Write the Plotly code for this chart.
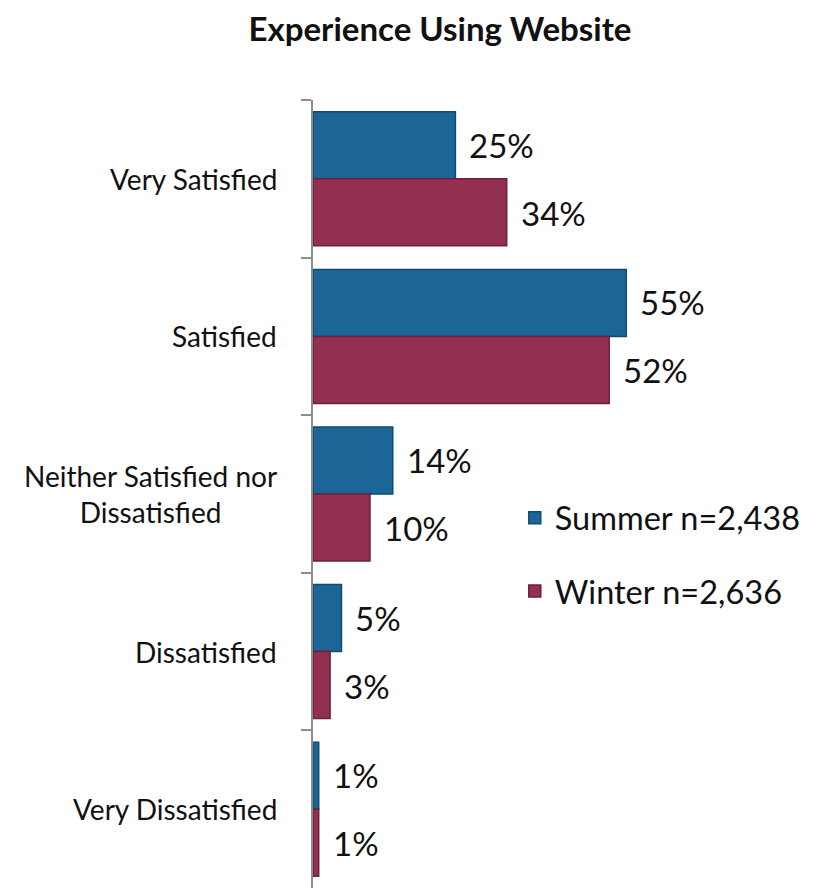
import plotly.graph_objects as go

categories = ["Very Satisfied", "Satisfied", "Neither Satisfied nor<br>Dissatisfied",
              "Dissatisfied", "Very Dissatisfied"]
summer = [25, 55, 14, 5, 1]
winter = [34, 52, 10, 3, 1]
series_names = ["Summer n=2,438", "Winter n=2,636"]

FONT = "Lato"
fills = ["#1b6597", "#93304f"]
edges = ["#0f4b72", "#6d1f3b"]

fig = go.Figure()
for i, (name, vals) in enumerate(zip(series_names, [summer, winter])):
    fig.add_trace(go.Bar(
        y=categories, x=vals, name=name, orientation="h",
        marker=dict(color=fills[i], line=dict(color=edges[i], width=1.5)),
        legendgroup=name,
    ))

annotations = []
# value labels to the right of each bar
for i, vals in enumerate([summer, winter]):
    for cat, v in zip(categories, vals):
        annotations.append(dict(
            x=v, y=cat, xref="x", yref="y", text=f"{v}%", showarrow=False,
            xanchor="left", xshift=12, yshift=(34 if i == 0 else -34),
            font=dict(family=FONT, size=33, color="#111111"),
        ))
# category labels
for cat in categories:
    annotations.append(dict(
        x=0, y=cat, xref="paper", yref="y", text=cat, showarrow=False,
        xanchor="right", xshift=-34, align="center",
        font=dict(family=FONT, size=28, color="#111111"),
    ))

fig.update_layout(
    width=820, height=888,
    margin=dict(l=313, r=0, t=100, b=0),
    paper_bgcolor="white", plot_bgcolor="white",
    title=dict(text="<b>Experience Using Website</b>", x=440 / 820, xanchor="center",
               xref="container", y=1 - 29 / 888, yanchor="middle", yref="container",
               font=dict(family=FONT, size=33, color="#111111")),
    barmode="group", bargap=0.15, bargroupgap=0,
    xaxis=dict(range=[0, 89], showgrid=False, zeroline=False, showline=False,
               showticklabels=False, ticks=""),
    yaxis=dict(autorange="reversed", showgrid=False, zeroline=False,
               showline=True, linecolor="#8c8c8c", linewidth=1.5,
               ticks="outside", ticklen=10, tickcolor="#8c8c8c", tickwidth=1.5,
               tickson="boundaries", showticklabels=False),
    legend=dict(x=0.398, y=0.505, xanchor="left", yanchor="top", xref="paper", yref="paper",
                font=dict(family=FONT, size=32.5, color="#111111"),
                traceorder="grouped", tracegroupgap=28, bgcolor="rgba(0,0,0,0)"),
    annotations=annotations,
)

fig.write_html("out.html")
